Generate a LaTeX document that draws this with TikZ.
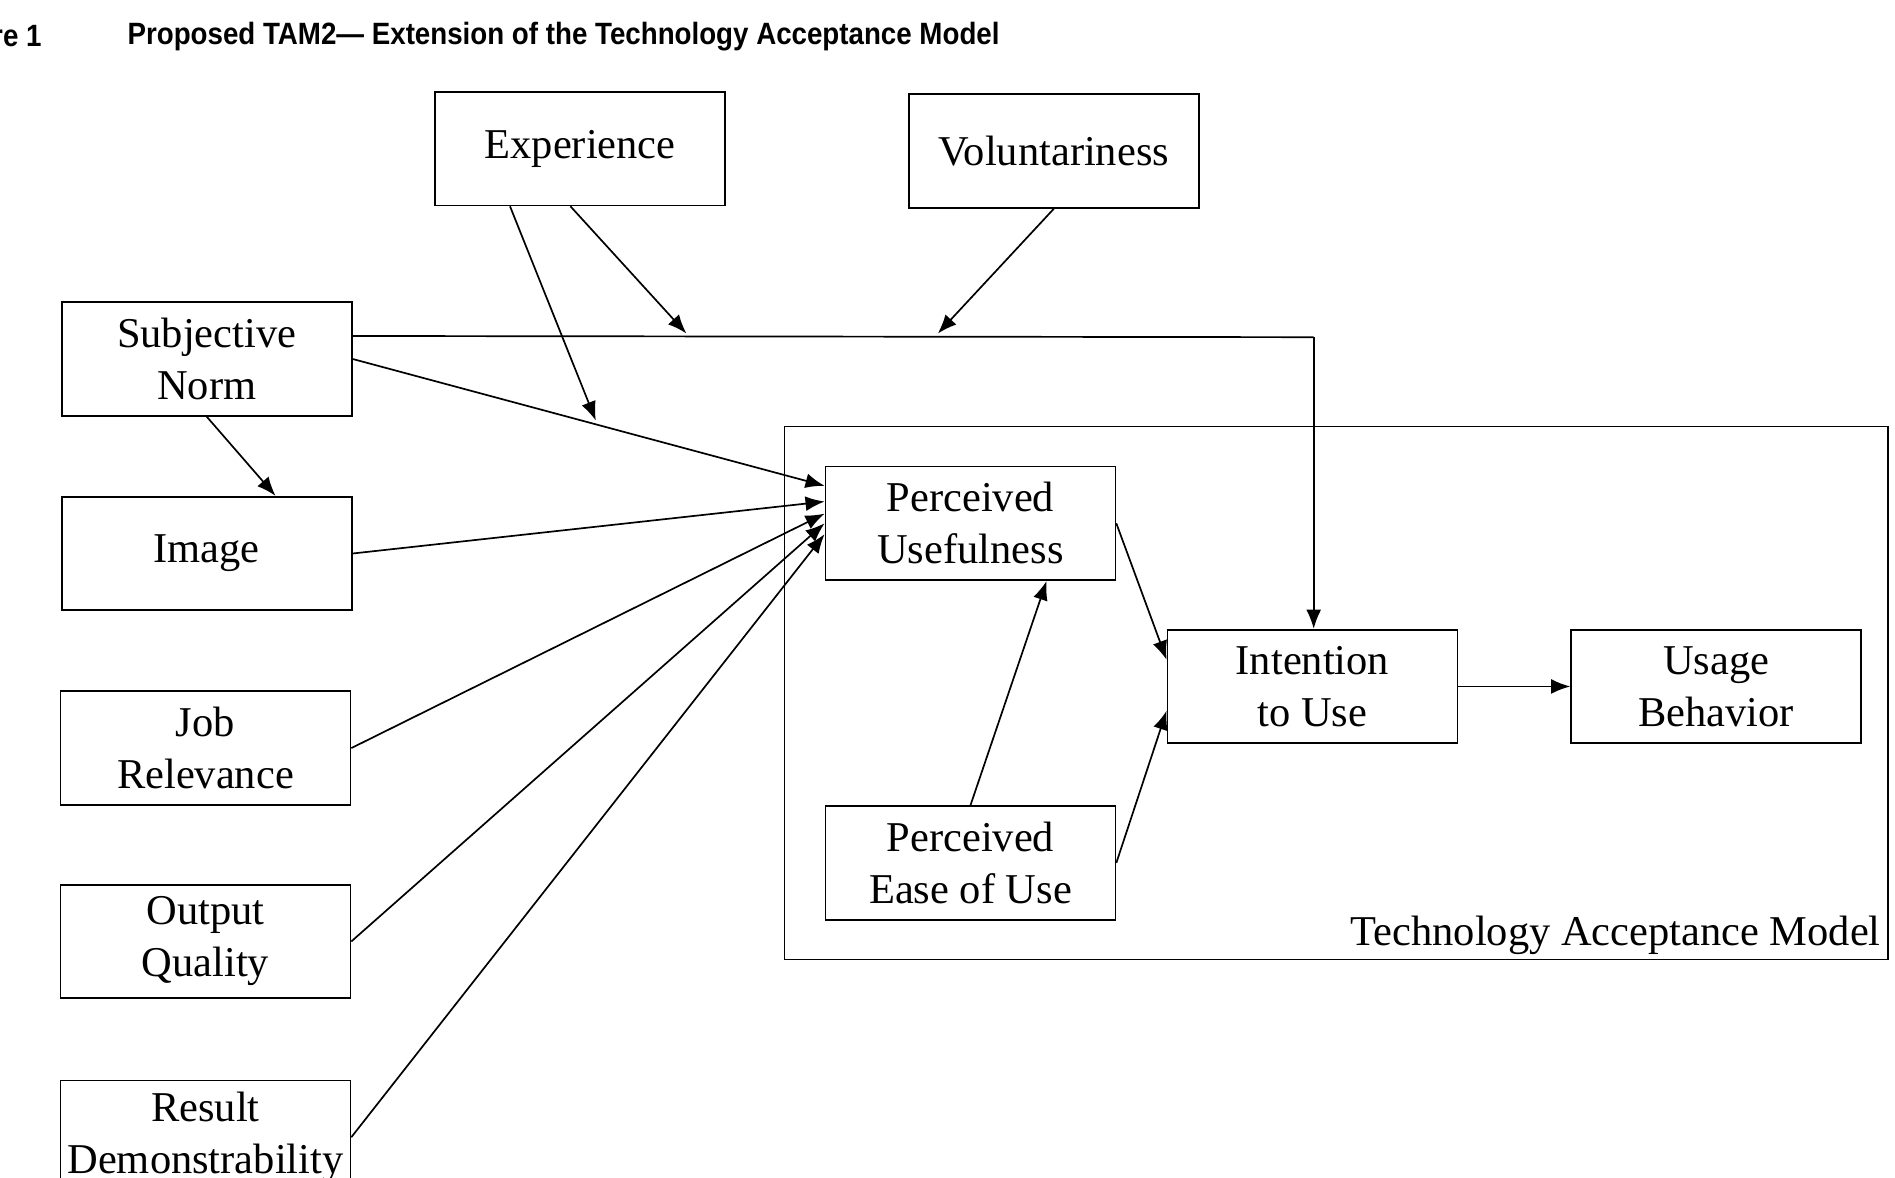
\documentclass[tikz,border=0pt]{standalone}
\usepackage{fontspec}
\setmainfont{Liberation Serif}
\newfontfamily\capfont{Liberation Sans}
\usetikzlibrary{arrows.meta}
\usetikzlibrary{positioning}
\tikzset{
  box/.style={draw,line width=0.8pt,minimum width=4.8cm,minimum height=1.88cm,
    align=center,font=\fontsize{20}{24.5}\selectfont,inner sep=0pt},
  link/.style={line width=0.8pt,-{Latex[length=9pt,width=7pt]}}
}
\begin{document}
\begin{tikzpicture}[x=0.02cm,y=-0.02cm]
\useasboundingbox (0,0) rectangle (1568,974);
% caption
\node[anchor=west,font=\capfont\bfseries\fontsize{14.5}{17}\selectfont,xscale=0.9] (fig) at (-12,30) {re 1};
\node[anchor=west,font=\capfont\bfseries\fontsize{14.5}{17}\selectfont,xscale=0.9] (title) at (100,30)
  {Proposed TAM2— Extension of the Technology Acceptance Model};

% model frame
\draw[line width=0.8pt] (649,353) rectangle (1562,794);
\node[anchor=south east,font=\fontsize{20}{24}\selectfont,inner sep=2pt] (tam) at (1560,794) {Technology Acceptance Model};

% external variables
\node[box] (exp) at (480,123) {Experience};
\node[box] (vol) at (872,125) {Voluntariness};
\node[box] (sn) at (171,297) {Subjective\\Norm};
\node[box] (img) at (171,458) {Image};
\node[box] (job) at (170,619) {Job\\Relevance};
\node[box] (out) at (170,779) {Output\\Quality};
\node[box] (res) at (170,941) {Result\\Demonstrability};

% core model
\node[box] (pu) at (803,433) {Perceived\\Usefulness};
\node[box] (itu) at (1086,568) {Intention\\to Use};
\node[box] (ub) at (1420,568) {Usage\\Behavior};
\node[box] (peou) at (803,714) {Perceived\\Ease of Use};

% moderation points
\coordinate (m1) at (493,348);
\coordinate (m2) at (568,276);
\coordinate (m3) at (776,276);
\coordinate (bend) at (1087,279);

\draw[line width=0.8pt] (sn.east |- 0,278) -- (bend);
\draw[link] (bend) -- (itu.north -| bend);
\draw[link] (exp.south -| 422,0) -- (m1);
\draw[link] (exp.south -| 472,0) -- (m2);
\draw[link] (vol.south) -- (m3);

\draw[link] (sn.east) -- (pu.west |- 0,402);
\draw[link] (sn.south) -- (img.north -| 228,0);
\draw[link] (img.east) -- (pu.west |- 0,415);
\draw[link] (job.east) -- (pu.west |- 0,425);
\draw[link] (out.east) -- (pu.west |- 0,433);
\draw[link] (res.east) -- (pu.west |- 0,442);

\draw[link] (pu.east) -- (itu.west |- 0,546);
\draw[link] (peou.north) -- (pu.south -| 866,0);
\draw[link] (peou.east) -- (itu.west |- 0,588);
\draw[link] (itu) -- (ub);
\end{tikzpicture}
\end{document}
